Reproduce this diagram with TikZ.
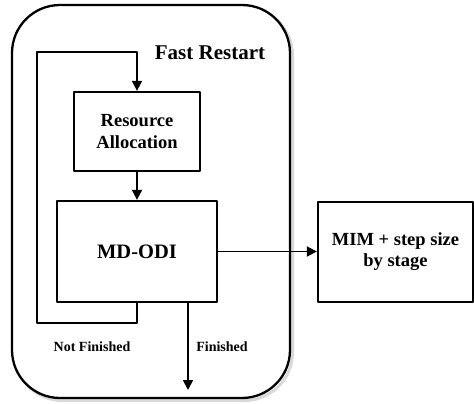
\documentclass[tikz,border=0pt]{standalone}
\usepackage{fontspec}
\setmainfont{Liberation Serif}
\usetikzlibrary{arrows.meta}
\begin{document}
\begin{tikzpicture}[x=1pt,y=-1pt,line join=round,>={Triangle[length=10pt,width=10pt]},
  blk/.style={draw,line width=2.3pt,inner sep=0pt,align=center,font=\bfseries\fontsize{18.5}{22}\selectfont},
  lbl/.style={font=\bfseries\fontsize{14}{16}\selectfont},
  con/.style={->,line width=1.8pt}]
\useasboundingbox (0,0) rectangle (474,404);
% container with soft shadow
\draw[gray!30,line width=3pt,rounded corners=48] (14.5,7.5) rectangle (292.5,400.5);
\draw[line width=2.3pt,rounded corners=48,fill=white] (12,5) rectangle (290,398);
\node (ft) at (210,53) {\bfseries\fontsize{21}{24}\selectfont Fast Restart};
% blocks
\node[blk,minimum width=126,minimum height=79] (ra) at (137,131.5) {Resource\\Allocation};
\node[blk,minimum width=160,minimum height=101,font=\bfseries\fontsize{20.5}{24}\selectfont] (md) at (137,251.5) {MD-ODI};
\node[blk,minimum width=155,minimum height=100,font=\bfseries\fontsize{18.5}{21}\selectfont] (mim) at (395.5,252) {MIM + step size\\by stage};
\coordinate (lpb) at (37,323);
\coordinate (lpt) at (37,52);
\coordinate (fin) at (188,390);
% connectors
\draw[con] (ra) -- (md);
\draw[con] (md.south) |- (lpb) -- (lpt) -| (ra.north);
\draw[con] (md.south -| fin) -- (fin);
\draw[con] (md.east) -- (md.east -| mim.west);
\node[lbl] (nf) at (92,347) {Not Finished};
\node[lbl] (fd) at (222,347) {Finished};
\end{tikzpicture}
\end{document}
